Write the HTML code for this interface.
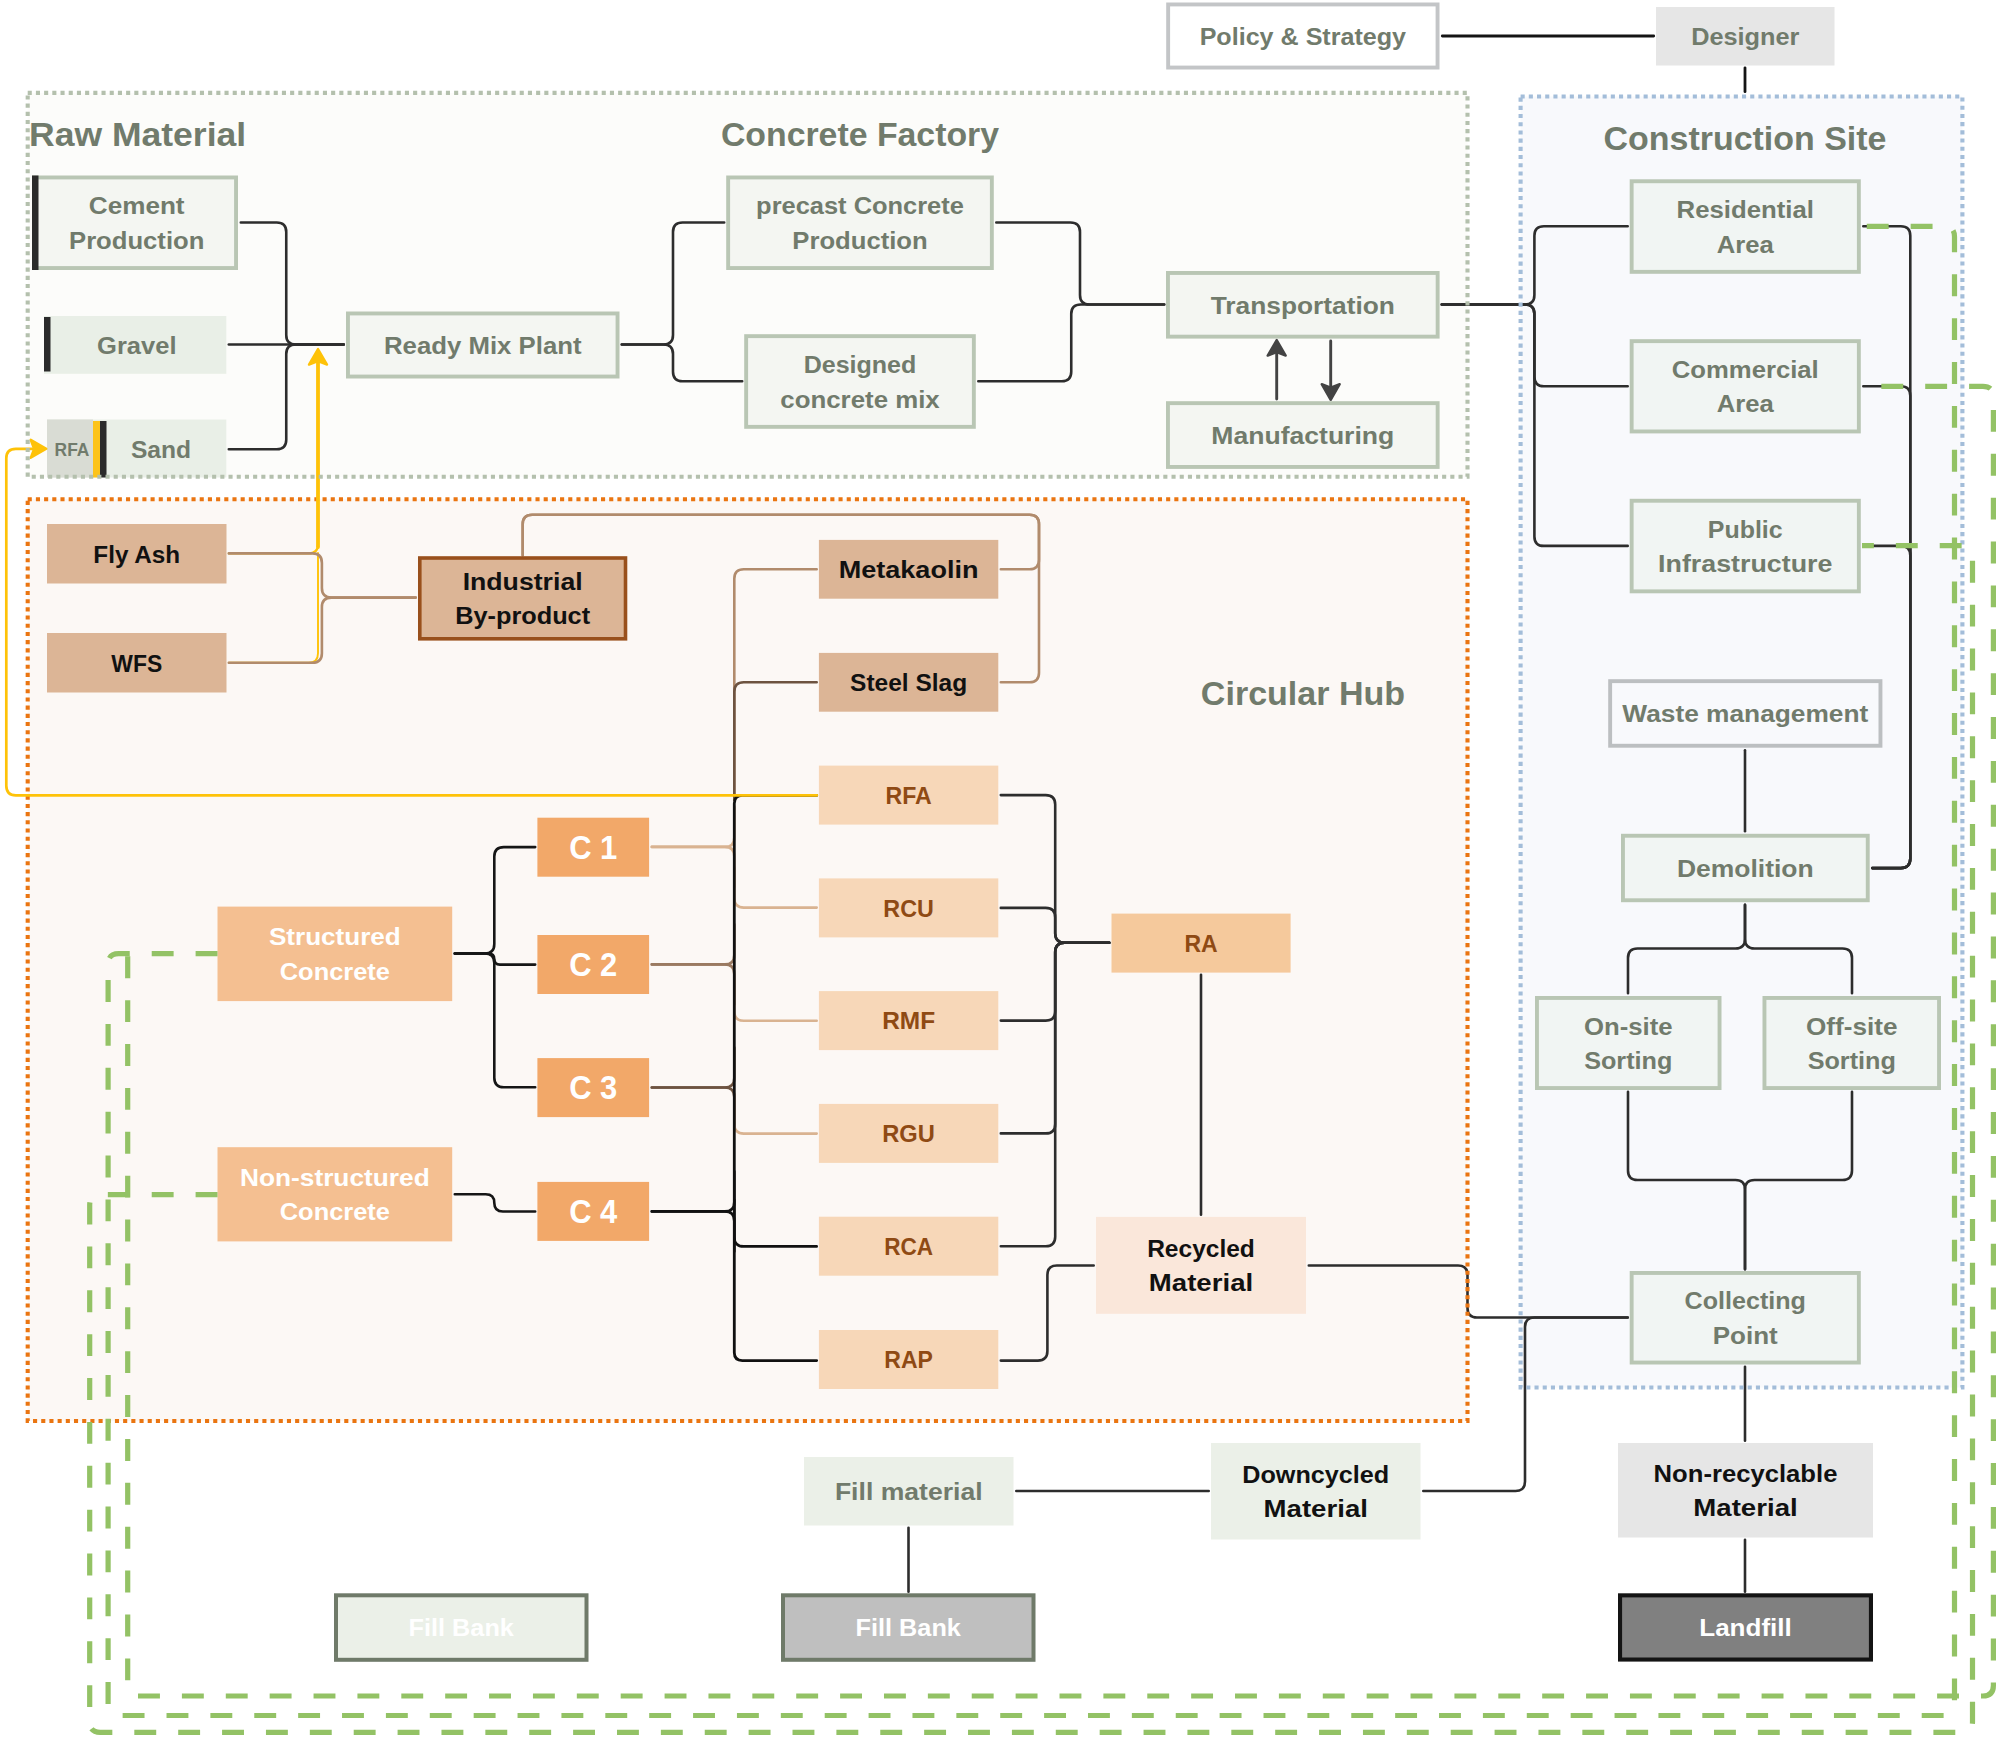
<!DOCTYPE html>
<html lang="en">
<head>
<meta charset="utf-8">
<title>Circular concrete flow diagram</title>
<style>
html,body{margin:0;padding:0;background:#ffffff;}
body{width:2000px;height:1738px;overflow:hidden;}
svg{display:block;}
text{font-family:"Liberation Sans",sans-serif;}
</style>
</head>
<body>
<svg width="2000" height="1738" viewBox="0 0 2000 1738">
<rect x="0" y="0" width="2000" height="1738" fill="#ffffff"/>
<g id="fills">
<rect x="27.7" y="92.9" width="1439.8" height="383.9" fill="#fcfcfa"/>
<rect x="27.7" y="499.2" width="1439.8" height="921.8" fill="#fcf8f5"/>
<rect x="1520.6" y="96.5" width="441.8000000000002" height="1291.0" fill="#f8f9fc"/>
</g>
<g id="titles">
<text x="29.00" y="145.70" font-size="32.8" fill="#717b6c" text-anchor="start" font-weight="bold" textLength="217.14" lengthAdjust="spacingAndGlyphs">Raw Material</text>
<text x="860.00" y="145.70" font-size="32.8" fill="#717b6c" text-anchor="middle" font-weight="bold" textLength="278.16" lengthAdjust="spacingAndGlyphs">Concrete Factory</text>
<text x="1745.00" y="149.50" font-size="32.8" fill="#717b6c" text-anchor="middle" font-weight="bold" textLength="282.95" lengthAdjust="spacingAndGlyphs">Construction Site</text>
<text x="1303.00" y="704.50" font-size="32.8" fill="#717b6c" text-anchor="middle" font-weight="bold" textLength="204.22" lengthAdjust="spacingAndGlyphs">Circular Hub</text>
</g>
<g id="connectors" stroke-linecap="round" stroke-linejoin="round">
<path d="M240.80,222.50 L276.75,222.50 Q286.25,222.50 286.25,232.00 L286.25,335.00 Q286.25,344.50 295.75,344.50 L343.70,344.50" fill="none" stroke="#2d2d2d" stroke-width="2.6" />
<path d="M228.80,344.50 L343.70,344.50" fill="none" stroke="#2d2d2d" stroke-width="2.6" />
<path d="M228.80,449.25 L276.75,449.25 Q286.25,449.25 286.25,439.75 L286.25,354.00 Q286.25,344.50 295.75,344.50 L343.70,344.50" fill="none" stroke="#2d2d2d" stroke-width="2.6" />
<path d="M621.80,344.50 L663.50,344.50 Q673.00,344.50 673.00,335.00 L673.00,232.00 Q673.00,222.50 682.50,222.50 L724.20,222.50" fill="none" stroke="#2d2d2d" stroke-width="2.6" />
<path d="M621.80,344.50 L663.50,344.50 Q673.00,344.50 673.00,354.00 L673.00,371.75 Q673.00,381.25 682.50,381.25 L742.20,381.25" fill="none" stroke="#2d2d2d" stroke-width="2.6" />
<path d="M996.30,222.50 L1070.50,222.50 Q1080.00,222.50 1080.00,232.00 L1080.00,295.00 Q1080.00,304.50 1089.50,304.50 L1164.20,304.50" fill="none" stroke="#2d2d2d" stroke-width="2.6" />
<path d="M978.30,381.25 L1061.75,381.25 Q1071.25,381.25 1071.25,371.75 L1071.25,314.00 Q1071.25,304.50 1080.75,304.50 L1164.20,304.50" fill="none" stroke="#2d2d2d" stroke-width="2.6" />
<path d="M1441.80,304.50 L1524.90,304.50 Q1534.40,304.50 1534.40,295.00 L1534.40,235.70 Q1534.40,226.20 1543.90,226.20 L1627.70,226.20" fill="none" stroke="#2d2d2d" stroke-width="2.6" />
<path d="M1863.30,226.20 L1900.80,226.20 Q1910.30,226.20 1910.30,235.70 L1910.30,858.60 Q1910.30,868.10 1900.80,868.10 L1872.30,868.10" fill="none" stroke="#2d2d2d" stroke-width="2.6" />
<path d="M1441.80,304.50 L1524.90,304.50 Q1534.40,304.50 1534.40,314.00 L1534.40,376.80 Q1534.40,386.30 1543.90,386.30 L1627.70,386.30" fill="none" stroke="#2d2d2d" stroke-width="2.6" />
<path d="M1863.30,386.30 L1900.80,386.30 Q1910.30,386.30 1910.30,395.80 L1910.30,858.60 Q1910.30,868.10 1900.80,868.10 L1872.30,868.10" fill="none" stroke="#2d2d2d" stroke-width="2.6" />
<path d="M1441.80,304.50 L1524.90,304.50 Q1534.40,304.50 1534.40,314.00 L1534.40,536.40 Q1534.40,545.90 1543.90,545.90 L1627.70,545.90" fill="none" stroke="#2d2d2d" stroke-width="2.6" />
<path d="M1863.30,545.90 L1900.80,545.90 Q1910.30,545.90 1910.30,555.40 L1910.30,858.60 Q1910.30,868.10 1900.80,868.10 L1872.30,868.10" fill="none" stroke="#2d2d2d" stroke-width="2.6" />
<path d="M1276.70,399.00 L1276.70,350.00" fill="none" stroke="#434343" stroke-width="2.9" />
<path d="M1276.70,340.00 L1267.70,355.60 L1276.70,352.20 L1285.70,355.60 Z" fill="#434343" stroke="#434343" stroke-width="2.4" stroke-linejoin="round"/>
<path d="M1330.70,341.00 L1330.70,390.00" fill="none" stroke="#434343" stroke-width="2.9" />
<path d="M1330.70,399.80 L1321.70,384.20 L1330.70,387.60 L1339.70,384.20 Z" fill="#434343" stroke="#434343" stroke-width="2.4" stroke-linejoin="round"/>
<path d="M1442.30,36.00 L1653.70,36.00" fill="none" stroke="#141414" stroke-width="2.8" />
<path d="M1745.00,67.80 L1745.00,91.70" fill="none" stroke="#141414" stroke-width="2.8" />
<path d="M1745.00,750.30 L1745.00,831.20" fill="none" stroke="#2d2d2d" stroke-width="2.6" />
<path d="M1745.00,904.80 L1745.00,939.00 Q1745.00,948.50 1735.50,948.50 L1637.50,948.50 Q1628.00,948.50 1628.00,958.00 L1628.00,993.20" fill="none" stroke="#2d2d2d" stroke-width="2.6" />
<path d="M1745.00,904.80 L1745.00,939.00 Q1745.00,948.50 1754.50,948.50 L1842.50,948.50 Q1852.00,948.50 1852.00,958.00 L1852.00,993.20" fill="none" stroke="#2d2d2d" stroke-width="2.6" />
<path d="M1628.00,1091.80 L1628.00,1170.50 Q1628.00,1180.00 1637.50,1180.00 L1735.50,1180.00 Q1745.00,1180.00 1745.00,1189.50 L1745.00,1269.20" fill="none" stroke="#2d2d2d" stroke-width="2.6" />
<path d="M1852.00,1091.80 L1852.00,1170.50 Q1852.00,1180.00 1842.50,1180.00 L1754.50,1180.00 Q1745.00,1180.00 1745.00,1189.50 L1745.00,1269.20" fill="none" stroke="#2d2d2d" stroke-width="2.6" />
<path d="M1745.00,1366.80 L1745.00,1440.70" fill="none" stroke="#2d2d2d" stroke-width="2.6" />
<path d="M1745.00,1539.80 L1745.00,1591.70" fill="none" stroke="#2d2d2d" stroke-width="2.6" />
<path d="M1308.80,1265.50 L1458.00,1265.50 Q1467.50,1265.50 1467.50,1275.00 L1467.50,1308.00 Q1467.50,1317.50 1477.00,1317.50 L1627.70,1317.50" fill="none" stroke="#2d2d2d" stroke-width="2.6" />
<path d="M1627.70,1317.50 L1534.50,1317.50 Q1525.00,1317.50 1525.00,1327.00 L1525.00,1481.50 Q1525.00,1491.00 1515.50,1491.00 L1423.30,1491.00" fill="none" stroke="#2d2d2d" stroke-width="2.6" />
<path d="M1208.70,1491.00 L1016.30,1491.00" fill="none" stroke="#2d2d2d" stroke-width="2.6" />
<path d="M908.50,1527.80 L908.50,1591.70" fill="none" stroke="#2d2d2d" stroke-width="2.6" />
<path d="M1000.80,795.10 L1045.70,795.10 Q1055.20,795.10 1055.20,804.60 L1055.20,933.30 Q1055.20,942.80 1064.70,942.80 L1109.20,942.80" fill="none" stroke="#2d2d2d" stroke-width="2.6" />
<path d="M1000.80,907.90 L1045.70,907.90 Q1055.20,907.90 1055.20,917.40 L1055.20,933.30 Q1055.20,942.80 1064.70,942.80 L1109.20,942.80" fill="none" stroke="#2d2d2d" stroke-width="2.6" />
<path d="M1000.80,1020.60 L1045.70,1020.60 Q1055.20,1020.60 1055.20,1011.10 L1055.20,952.30 Q1055.20,942.80 1064.70,942.80 L1109.20,942.80" fill="none" stroke="#2d2d2d" stroke-width="2.6" />
<path d="M1000.80,1133.40 L1045.70,1133.40 Q1055.20,1133.40 1055.20,1123.90 L1055.20,952.30 Q1055.20,942.80 1064.70,942.80 L1109.20,942.80" fill="none" stroke="#2d2d2d" stroke-width="2.6" />
<path d="M1000.80,1246.20 L1045.70,1246.20 Q1055.20,1246.20 1055.20,1236.70 L1055.20,952.30 Q1055.20,942.80 1064.70,942.80 L1109.20,942.80" fill="none" stroke="#2d2d2d" stroke-width="2.6" />
<path d="M1000.80,1360.60 L1037.90,1360.60 Q1047.40,1360.60 1047.40,1351.10 L1047.40,1275.00 Q1047.40,1265.50 1056.90,1265.50 L1093.70,1265.50" fill="none" stroke="#2d2d2d" stroke-width="2.6" />
<path d="M1201.00,974.80 L1201.00,1214.70" fill="none" stroke="#2d2d2d" stroke-width="2.6" />
<path d="M454.80,953.50 L484.80,953.50 Q494.30,953.50 494.30,944.00 L494.30,856.60 Q494.30,847.10 503.80,847.10 L535.20,847.10" fill="none" stroke="#161616" stroke-width="2.6" />
<path d="M454.80,953.50 L488.75,953.50 Q494.30,953.50 494.30,959.05 L494.30,959.05 Q494.30,964.60 499.85,964.60 L535.20,964.60" fill="none" stroke="#161616" stroke-width="2.6" />
<path d="M454.80,953.50 L484.80,953.50 Q494.30,953.50 494.30,963.00 L494.30,1077.80 Q494.30,1087.30 503.80,1087.30 L535.20,1087.30" fill="none" stroke="#161616" stroke-width="2.6" />
<path d="M454.80,1194.30 L485.70,1194.30 Q494.30,1194.30 494.30,1202.90 L494.30,1202.90 Q494.30,1211.50 502.90,1211.50 L535.20,1211.50" fill="none" stroke="#161616" stroke-width="2.6" />
<path d="M522.70,555.20 L522.70,524.30 Q522.70,514.80 532.20,514.80 L1029.50,514.80 Q1039.00,514.80 1039.00,524.30 L1039.00,559.80 Q1039.00,569.30 1029.50,569.30 L1000.80,569.30" fill="none" stroke="#b18b6c" stroke-width="2.6" />
<path d="M522.70,555.20 L522.70,524.30 Q522.70,514.80 532.20,514.80 L1029.50,514.80 Q1039.00,514.80 1039.00,524.30 L1039.00,672.80 Q1039.00,682.30 1029.50,682.30 L1000.80,682.30" fill="none" stroke="#b18b6c" stroke-width="2.6" />
<path d="M651.80,846.90 L724.80,846.90 Q734.30,846.90 734.30,837.40 L734.30,806.90" fill="none" stroke="#d9b391" stroke-width="2.6" />
<path d="M651.80,846.90 L724.80,846.90 Q734.30,846.90 734.30,856.40 L734.30,886.90" fill="none" stroke="#d9b391" stroke-width="2.6" />
<path d="M651.80,964.40 L724.80,964.40 Q734.30,964.40 734.30,954.90 L734.30,924.40" fill="none" stroke="#9a7a61" stroke-width="2.6" />
<path d="M651.80,964.40 L724.80,964.40 Q734.30,964.40 734.30,973.90 L734.30,1004.40" fill="none" stroke="#9a7a61" stroke-width="2.6" />
<path d="M651.80,1087.50 L724.80,1087.50 Q734.30,1087.50 734.30,1078.00 L734.30,1047.50" fill="none" stroke="#6d5340" stroke-width="2.6" />
<path d="M651.80,1087.50 L724.80,1087.50 Q734.30,1087.50 734.30,1097.00 L734.30,1127.50" fill="none" stroke="#6d5340" stroke-width="2.6" />
<path d="M651.80,1211.40 L724.80,1211.40 Q734.30,1211.40 734.30,1201.90 L734.30,1171.40" fill="none" stroke="#111111" stroke-width="2.6" />
<path d="M651.80,1211.40 L724.80,1211.40 Q734.30,1211.40 734.30,1220.90 L734.30,1251.40" fill="none" stroke="#111111" stroke-width="2.6" />
<path d="M734.30,867.60 L734.30,898.10 Q734.30,907.60 743.80,907.60 L816.70,907.60" fill="none" stroke="#d9b391" stroke-width="2.6" />
<path d="M734.30,980.80 L734.30,1011.30 Q734.30,1020.80 743.80,1020.80 L816.70,1020.80" fill="none" stroke="#d9b391" stroke-width="2.6" />
<path d="M734.30,1093.60 L734.30,1124.10 Q734.30,1133.60 743.80,1133.60 L816.70,1133.60" fill="none" stroke="#d9b391" stroke-width="2.6" />
<path d="M816.70,569.30 L743.80,569.30 Q734.30,569.30 734.30,578.80 L734.30,800.00" fill="none" stroke="#b18b6c" stroke-width="2.6" />
<path d="M816.70,682.30 L743.80,682.30 Q734.30,682.30 734.30,691.80 L734.30,800.00" fill="none" stroke="#6d5340" stroke-width="2.6" />
<path d="M816.70,795.40 L742.30,795.40 Q734.30,795.40 734.30,803.40 L734.30,1352.60 Q734.30,1360.60 742.30,1360.60 L816.70,1360.60" fill="none" stroke="#111111" stroke-width="2.8" />
<path d="M734.30,1200.00 L734.30,1236.90 Q734.30,1246.40 743.80,1246.40 L816.70,1246.40" fill="none" stroke="#111111" stroke-width="2.6" />
</g>
<g id="boxes">
<rect x="33.95" y="177.45" width="202.10" height="90.60" fill="#f4f6f2" stroke="#b9c6b4" stroke-width="3.9"/>
<text x="136.70" y="214.25" font-size="24.6" fill="#717b6c" text-anchor="middle" font-weight="bold" textLength="95.75" lengthAdjust="spacingAndGlyphs">Cement</text>
<text x="136.70" y="248.75" font-size="24.6" fill="#717b6c" text-anchor="middle" font-weight="bold" textLength="135.33" lengthAdjust="spacingAndGlyphs">Production</text>
<rect x="32.00" y="175.50" width="6.50" height="94.50" fill="#2b2b2b"/>
<rect x="44.00" y="316.00" width="182.30" height="57.80" fill="#e9efe7"/>
<text x="136.80" y="353.68" font-size="24.6" fill="#717b6c" text-anchor="middle" font-weight="bold" textLength="79.39" lengthAdjust="spacingAndGlyphs">Gravel</text>
<rect x="44.00" y="317.00" width="6.50" height="54.50" fill="#2b2b2b"/>
<rect x="47.00" y="419.50" width="179.30" height="58.00" fill="#e9efe7"/>
<rect x="47.00" y="419.50" width="46.00" height="58.00" fill="#d9dcd4"/>
<rect x="93.00" y="421.00" width="7.00" height="56.50" fill="#fcc31a"/>
<rect x="100.00" y="421.00" width="6.50" height="56.50" fill="#2b2b2b"/>
<text x="161.00" y="458.08" font-size="24.6" fill="#717b6c" text-anchor="middle" font-weight="bold" textLength="60.14" lengthAdjust="spacingAndGlyphs">Sand</text>
<text x="72.00" y="456.30" font-size="19.2" fill="#717b6c" text-anchor="middle" font-weight="bold" textLength="34.80" lengthAdjust="spacingAndGlyphs">RFA</text>
<rect x="347.95" y="313.45" width="269.60" height="63.10" fill="#f4f6f2" stroke="#b9c6b4" stroke-width="3.9"/>
<text x="482.75" y="353.78" font-size="24.6" fill="#717b6c" text-anchor="middle" font-weight="bold" textLength="197.56" lengthAdjust="spacingAndGlyphs">Ready Mix Plant</text>
<rect x="728.15" y="177.45" width="263.70" height="90.60" fill="#f4f6f2" stroke="#b9c6b4" stroke-width="3.9"/>
<text x="860.00" y="214.25" font-size="24.6" fill="#717b6c" text-anchor="middle" font-weight="bold" textLength="207.73" lengthAdjust="spacingAndGlyphs">precast Concrete</text>
<text x="860.00" y="248.75" font-size="24.6" fill="#717b6c" text-anchor="middle" font-weight="bold" textLength="135.33" lengthAdjust="spacingAndGlyphs">Production</text>
<rect x="746.15" y="336.15" width="227.70" height="90.70" fill="#f4f6f2" stroke="#b9c6b4" stroke-width="3.9"/>
<text x="860.00" y="373.00" font-size="24.6" fill="#717b6c" text-anchor="middle" font-weight="bold" textLength="112.65" lengthAdjust="spacingAndGlyphs">Designed</text>
<text x="860.00" y="407.50" font-size="24.6" fill="#717b6c" text-anchor="middle" font-weight="bold" textLength="159.40" lengthAdjust="spacingAndGlyphs">concrete mix</text>
<rect x="1167.95" y="272.95" width="269.70" height="63.70" fill="#f4f6f2" stroke="#b9c6b4" stroke-width="3.9"/>
<text x="1302.80" y="313.58" font-size="24.6" fill="#717b6c" text-anchor="middle" font-weight="bold" textLength="184.05" lengthAdjust="spacingAndGlyphs">Transportation</text>
<rect x="1167.95" y="403.15" width="269.70" height="63.80" fill="#f4f6f2" stroke="#b9c6b4" stroke-width="3.9"/>
<text x="1302.80" y="443.83" font-size="24.6" fill="#717b6c" text-anchor="middle" font-weight="bold" textLength="183.01" lengthAdjust="spacingAndGlyphs">Manufacturing</text>
<rect x="1168.15" y="4.45" width="269.40" height="63.10" fill="#ffffff" stroke="#c3c5c7" stroke-width="3.9"/>
<text x="1302.85" y="44.78" font-size="24.6" fill="#717b6c" text-anchor="middle" font-weight="bold" textLength="206.44" lengthAdjust="spacingAndGlyphs">Policy &amp; Strategy</text>
<rect x="1656.00" y="7.00" width="178.50" height="58.50" fill="#e6e6e6"/>
<text x="1745.25" y="45.03" font-size="24.6" fill="#717b6c" text-anchor="middle" font-weight="bold" textLength="108.25" lengthAdjust="spacingAndGlyphs">Designer</text>
<rect x="1631.65" y="181.25" width="227.20" height="90.60" fill="#f1f5f3" stroke="#b9c6b4" stroke-width="3.9"/>
<text x="1745.25" y="218.05" font-size="24.6" fill="#717b6c" text-anchor="middle" font-weight="bold" textLength="137.33" lengthAdjust="spacingAndGlyphs">Residential</text>
<text x="1745.25" y="252.55" font-size="24.6" fill="#717b6c" text-anchor="middle" font-weight="bold" textLength="57.05" lengthAdjust="spacingAndGlyphs">Area</text>
<rect x="1631.65" y="341.15" width="227.20" height="90.30" fill="#f1f5f3" stroke="#b9c6b4" stroke-width="3.9"/>
<text x="1745.25" y="377.80" font-size="24.6" fill="#717b6c" text-anchor="middle" font-weight="bold" textLength="146.96" lengthAdjust="spacingAndGlyphs">Commercial</text>
<text x="1745.25" y="412.30" font-size="24.6" fill="#717b6c" text-anchor="middle" font-weight="bold" textLength="57.05" lengthAdjust="spacingAndGlyphs">Area</text>
<rect x="1631.65" y="500.75" width="227.20" height="90.60" fill="#f1f5f3" stroke="#b9c6b4" stroke-width="3.9"/>
<text x="1745.25" y="537.55" font-size="24.6" fill="#717b6c" text-anchor="middle" font-weight="bold" textLength="74.85" lengthAdjust="spacingAndGlyphs">Public</text>
<text x="1745.25" y="572.05" font-size="24.6" fill="#717b6c" text-anchor="middle" font-weight="bold" textLength="174.33" lengthAdjust="spacingAndGlyphs">Infrastructure</text>
<rect x="1610.15" y="681.15" width="270.30" height="64.60" fill="#f8f9fc" stroke="#bcbfc1" stroke-width="3.9"/>
<text x="1745.30" y="722.23" font-size="24.6" fill="#717b6c" text-anchor="middle" font-weight="bold" textLength="245.99" lengthAdjust="spacingAndGlyphs">Waste management</text>
<rect x="1622.95" y="835.75" width="244.80" height="64.50" fill="#f1f5f3" stroke="#b9c6b4" stroke-width="3.9"/>
<text x="1745.35" y="876.78" font-size="24.6" fill="#717b6c" text-anchor="middle" font-weight="bold" textLength="136.73" lengthAdjust="spacingAndGlyphs">Demolition</text>
<rect x="1536.95" y="997.95" width="182.60" height="90.10" fill="#f1f5f3" stroke="#b9c6b4" stroke-width="3.9"/>
<text x="1628.25" y="1034.50" font-size="24.6" fill="#717b6c" text-anchor="middle" font-weight="bold" textLength="88.61" lengthAdjust="spacingAndGlyphs">On-site</text>
<text x="1628.25" y="1069.00" font-size="24.6" fill="#717b6c" text-anchor="middle" font-weight="bold" textLength="88.20" lengthAdjust="spacingAndGlyphs">Sorting</text>
<rect x="1764.45" y="997.95" width="174.60" height="90.10" fill="#f1f5f3" stroke="#b9c6b4" stroke-width="3.9"/>
<text x="1851.75" y="1034.50" font-size="24.6" fill="#717b6c" text-anchor="middle" font-weight="bold" textLength="91.48" lengthAdjust="spacingAndGlyphs">Off-site</text>
<text x="1851.75" y="1069.00" font-size="24.6" fill="#717b6c" text-anchor="middle" font-weight="bold" textLength="88.20" lengthAdjust="spacingAndGlyphs">Sorting</text>
<rect x="1631.65" y="1272.95" width="227.20" height="89.60" fill="#f1f5f3" stroke="#b9c6b4" stroke-width="3.9"/>
<text x="1745.25" y="1309.25" font-size="24.6" fill="#717b6c" text-anchor="middle" font-weight="bold" textLength="121.36" lengthAdjust="spacingAndGlyphs">Collecting</text>
<text x="1745.25" y="1343.75" font-size="24.6" fill="#717b6c" text-anchor="middle" font-weight="bold" textLength="65.03" lengthAdjust="spacingAndGlyphs">Point</text>
<rect x="1618.00" y="1443.00" width="255.00" height="94.50" fill="#e6e6e6"/>
<text x="1745.50" y="1481.75" font-size="24.6" fill="#111111" text-anchor="middle" font-weight="bold" textLength="183.80" lengthAdjust="spacingAndGlyphs">Non-recyclable</text>
<text x="1745.50" y="1516.25" font-size="24.6" fill="#111111" text-anchor="middle" font-weight="bold" textLength="104.31" lengthAdjust="spacingAndGlyphs">Material</text>
<rect x="1620.05" y="1595.35" width="250.90" height="64.20" fill="#808080" stroke="#141414" stroke-width="4.1"/>
<text x="1745.50" y="1636.23" font-size="24.6" fill="#ffffff" text-anchor="middle" font-weight="bold" textLength="92.53" lengthAdjust="spacingAndGlyphs">Landfill</text>
<rect x="1211.00" y="1443.00" width="209.50" height="96.50" fill="#ebf0e8"/>
<text x="1315.75" y="1482.75" font-size="24.6" fill="#111111" text-anchor="middle" font-weight="bold" textLength="147.07" lengthAdjust="spacingAndGlyphs">Downcycled</text>
<text x="1315.75" y="1517.25" font-size="24.6" fill="#111111" text-anchor="middle" font-weight="bold" textLength="104.31" lengthAdjust="spacingAndGlyphs">Material</text>
<rect x="804.00" y="1457.00" width="209.50" height="68.50" fill="#ebf0e8"/>
<text x="908.75" y="1500.03" font-size="24.6" fill="#717b6c" text-anchor="middle" font-weight="bold" textLength="147.69" lengthAdjust="spacingAndGlyphs">Fill material</text>
<rect x="783.00" y="1595.30" width="250.50" height="64.50" fill="#bfbfbf" stroke="#6f7a69" stroke-width="4"/>
<text x="908.25" y="1636.33" font-size="24.6" fill="#ffffff" text-anchor="middle" font-weight="bold" textLength="105.22" lengthAdjust="spacingAndGlyphs">Fill Bank</text>
<rect x="336.00" y="1595.30" width="250.50" height="64.50" fill="#ebf0e8" stroke="#6f7a69" stroke-width="4"/>
<text x="461.25" y="1636.33" font-size="24.6" fill="#ffffff" text-anchor="middle" font-weight="bold" textLength="105.22" lengthAdjust="spacingAndGlyphs">Fill Bank</text>
<rect x="47.00" y="524.00" width="179.50" height="59.50" fill="#dcb596"/>
<text x="136.75" y="562.53" font-size="24.6" fill="#111111" text-anchor="middle" font-weight="bold" textLength="86.76" lengthAdjust="spacingAndGlyphs">Fly Ash</text>
<rect x="47.00" y="633.00" width="179.50" height="59.50" fill="#dcb596"/>
<text x="136.75" y="671.53" font-size="24.6" fill="#111111" text-anchor="middle" font-weight="bold" textLength="50.83" lengthAdjust="spacingAndGlyphs">WFS</text>
<rect x="419.80" y="558.00" width="205.70" height="80.80" fill="#dcb596" stroke="#99501c" stroke-width="3.6"/>
<text x="522.65" y="589.90" font-size="24.6" fill="#111111" text-anchor="middle" font-weight="bold" textLength="120.00" lengthAdjust="spacingAndGlyphs">Industrial</text>
<text x="522.65" y="624.40" font-size="24.6" fill="#111111" text-anchor="middle" font-weight="bold" textLength="134.98" lengthAdjust="spacingAndGlyphs">By-product</text>
<rect x="818.90" y="539.90" width="179.40" height="58.80" fill="#dcb596"/>
<text x="908.60" y="578.08" font-size="24.6" fill="#111111" text-anchor="middle" font-weight="bold" textLength="139.80" lengthAdjust="spacingAndGlyphs">Metakaolin</text>
<rect x="818.90" y="652.90" width="179.40" height="58.80" fill="#dcb596"/>
<text x="908.60" y="691.08" font-size="24.6" fill="#111111" text-anchor="middle" font-weight="bold" textLength="117.01" lengthAdjust="spacingAndGlyphs">Steel Slag</text>
<rect x="818.90" y="765.60" width="179.40" height="59.00" fill="#f7d7b8"/>
<text x="908.60" y="803.88" font-size="24.6" fill="#8f4a14" text-anchor="middle" font-weight="bold" textLength="46.22" lengthAdjust="spacingAndGlyphs">RFA</text>
<rect x="818.90" y="878.40" width="179.40" height="59.00" fill="#f7d7b8"/>
<text x="908.60" y="916.68" font-size="24.6" fill="#8f4a14" text-anchor="middle" font-weight="bold" textLength="50.51" lengthAdjust="spacingAndGlyphs">RCU</text>
<rect x="818.90" y="991.10" width="179.40" height="59.00" fill="#f7d7b8"/>
<text x="908.60" y="1029.38" font-size="24.6" fill="#8f4a14" text-anchor="middle" font-weight="bold" textLength="52.94" lengthAdjust="spacingAndGlyphs">RMF</text>
<rect x="818.90" y="1103.90" width="179.40" height="59.00" fill="#f7d7b8"/>
<text x="908.60" y="1142.18" font-size="24.6" fill="#8f4a14" text-anchor="middle" font-weight="bold" textLength="52.65" lengthAdjust="spacingAndGlyphs">RGU</text>
<rect x="818.90" y="1216.70" width="179.40" height="59.00" fill="#f7d7b8"/>
<text x="908.60" y="1254.98" font-size="24.6" fill="#8f4a14" text-anchor="middle" font-weight="bold" textLength="48.89" lengthAdjust="spacingAndGlyphs">RCA</text>
<rect x="818.90" y="1330.00" width="179.40" height="59.00" fill="#f7d7b8"/>
<text x="908.60" y="1368.28" font-size="24.6" fill="#8f4a14" text-anchor="middle" font-weight="bold" textLength="48.66" lengthAdjust="spacingAndGlyphs">RAP</text>
<rect x="537.40" y="817.70" width="111.70" height="59.00" fill="#f2a869"/>
<text x="593.25" y="858.91" font-size="32.8" fill="#ffffff" text-anchor="middle" font-weight="bold" textLength="48.14" lengthAdjust="spacingAndGlyphs">C 1</text>
<rect x="537.40" y="935.00" width="111.70" height="59.00" fill="#f2a869"/>
<text x="593.25" y="976.21" font-size="32.8" fill="#ffffff" text-anchor="middle" font-weight="bold" textLength="48.14" lengthAdjust="spacingAndGlyphs">C 2</text>
<rect x="537.40" y="1058.10" width="111.70" height="59.00" fill="#f2a869"/>
<text x="593.25" y="1099.31" font-size="32.8" fill="#ffffff" text-anchor="middle" font-weight="bold" textLength="48.14" lengthAdjust="spacingAndGlyphs">C 3</text>
<rect x="537.40" y="1181.90" width="111.70" height="59.00" fill="#f2a869"/>
<text x="593.25" y="1223.11" font-size="32.8" fill="#ffffff" text-anchor="middle" font-weight="bold" textLength="48.14" lengthAdjust="spacingAndGlyphs">C 4</text>
<rect x="217.50" y="906.60" width="234.70" height="94.50" fill="#f4bf91"/>
<text x="334.85" y="945.35" font-size="24.6" fill="#ffffff" text-anchor="middle" font-weight="bold" textLength="131.84" lengthAdjust="spacingAndGlyphs">Structured</text>
<text x="334.85" y="979.85" font-size="24.6" fill="#ffffff" text-anchor="middle" font-weight="bold" textLength="110.15" lengthAdjust="spacingAndGlyphs">Concrete</text>
<rect x="217.50" y="1147.20" width="234.70" height="94.20" fill="#f4bf91"/>
<text x="334.85" y="1185.80" font-size="24.6" fill="#ffffff" text-anchor="middle" font-weight="bold" textLength="189.84" lengthAdjust="spacingAndGlyphs">Non-structured</text>
<text x="334.85" y="1220.30" font-size="24.6" fill="#ffffff" text-anchor="middle" font-weight="bold" textLength="110.15" lengthAdjust="spacingAndGlyphs">Concrete</text>
<rect x="1111.50" y="913.60" width="179.10" height="59.00" fill="#f5c99c"/>
<text x="1201.05" y="951.88" font-size="24.6" fill="#8f4a14" text-anchor="middle" font-weight="bold" textLength="33.21" lengthAdjust="spacingAndGlyphs">RA</text>
<rect x="1096.00" y="1216.90" width="210.00" height="96.90" fill="#fae7da"/>
<text x="1201.00" y="1256.85" font-size="24.6" fill="#111111" text-anchor="middle" font-weight="bold" textLength="107.67" lengthAdjust="spacingAndGlyphs">Recycled</text>
<text x="1201.00" y="1291.35" font-size="24.6" fill="#111111" text-anchor="middle" font-weight="bold" textLength="104.31" lengthAdjust="spacingAndGlyphs">Material</text>
</g>
<g id="borders">
<rect x="27.7" y="499.2" width="1439.8" height="921.8" fill="none" stroke="#ea7511" stroke-width="4.1" stroke-dasharray="4.1 4.09"/>
<rect x="1520.6" y="96.5" width="441.8000000000002" height="1291.0" fill="none" stroke="#a3bdd9" stroke-width="4.1" stroke-dasharray="4.1 4.1"/>
</g>
<g id="yellow" stroke-linecap="round" stroke-linejoin="round">
<path d="M817.00,795.30 L15.80,795.30 Q6.30,795.30 6.30,785.80 L6.30,458.30 Q6.30,448.80 15.80,448.80 L34.00,448.80" fill="none" stroke="#fec208" stroke-width="2.7" />
<path d="M46.30,448.80 L30.70,439.80 L34.10,448.80 L30.70,457.80 Z" fill="#fec208" stroke="#fec208" stroke-width="2.4" stroke-linejoin="round"/>
<path d="M228.80,662.80 L308.50,662.80 Q318.00,662.80 318.00,653.30 L318.00,553.00" fill="none" stroke="#fec208" stroke-width="1.9" />
<path d="M228.80,553.40 L308.50,553.40 Q318.00,553.40 318.00,543.90 L318.00,360.00" fill="none" stroke="#fec208" stroke-width="2.2" />
<path d="M318.00,547.00 L318.00,360.00" fill="none" stroke="#fec208" stroke-width="3.8" />
<path d="M318.00,349.00 L309.00,364.60 L318.00,361.20 L327.00,364.60 Z" fill="#fec208" stroke="#fec208" stroke-width="2.4" stroke-linejoin="round"/>
<path d="M228.80,553.40 L312.40,553.40 Q321.90,553.40 321.90,562.90 L321.90,588.10 Q321.90,597.60 331.40,597.60 L415.70,597.60" fill="none" stroke="#b18b6c" stroke-width="2.6" />
<path d="M228.80,662.80 L312.40,662.80 Q321.90,662.80 321.90,653.30 L321.90,607.10 Q321.90,597.60 331.40,597.60 L415.70,597.60" fill="none" stroke="#b18b6c" stroke-width="2.6" />
</g>
<g id="border-top">
<rect x="27.7" y="92.9" width="1439.8" height="383.9" fill="none" stroke="#b4c0ad" stroke-width="4.1" stroke-dasharray="4.1 4.1"/>
</g>
<g id="green">
<path d="M217.50,953.70 L118.60,953.70 Q108.10,953.70 108.10,964.20 L108.10,1705.00 Q108.10,1715.50 118.60,1715.50 L1944.00,1715.50 Q1954.50,1715.50 1954.50,1705.00 L1954.50,236.80 Q1954.50,226.30 1944.00,226.30 L1862.00,226.30" fill="none" stroke="#93c265" stroke-width="5.2" stroke-dasharray="21.9 21.98" stroke-dashoffset="0.0"/>
<path d="M127.70,956.30 L127.70,1685.50 Q127.70,1696.00 138.20,1696.00 L1982.90,1696.00 Q1993.40,1696.00 1993.40,1685.50 L1993.40,396.80 Q1993.40,386.30 1982.90,386.30 L1862.00,386.30" fill="none" stroke="#93c265" stroke-width="5.2" stroke-dasharray="21.9 21.98" stroke-dashoffset="0.0"/>
<path d="M217.50,1194.60 L100.20,1194.60 Q89.70,1194.60 89.70,1205.10 L89.70,1721.90 Q89.70,1732.40 100.20,1732.40 L1962.00,1732.40 Q1972.50,1732.40 1972.50,1721.90 L1972.50,556.10 Q1972.50,545.60 1962.00,545.60 L1862.00,545.60" fill="none" stroke="#93c265" stroke-width="5.2" stroke-dasharray="21.9 21.98" stroke-dashoffset="0.0"/>
</g>
</svg>
</body>
</html>
